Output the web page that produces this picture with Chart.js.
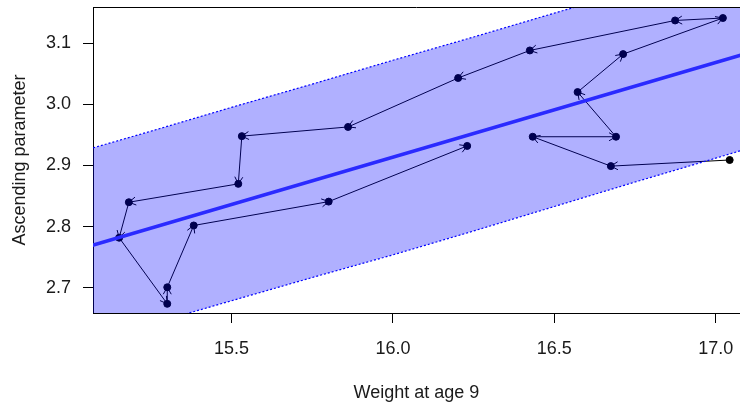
<!DOCTYPE html>
<html>
<head>
<meta charset="utf-8">
<script src="https://cdn.jsdelivr.net/npm/chart.js@4.4.1/dist/chart.umd.min.js"></script>
<style>
  html, body { margin: 0; padding: 0; background: #fff; }
  canvas { display: block; }
</style>
</head>
<body>
<canvas id="myChart" width="740" height="404"></canvas>
<script>
// path of observations, in drawing order (arrows go from one to the next)
var pathX = [17.043, 16.675, 16.433, 16.691, 16.572, 16.713, 17.022, 16.874, 16.424, 16.202,
             15.861, 15.532, 15.521, 15.182, 15.152, 15.301, 15.301, 15.383, 15.801, 16.230];
var pathY = [2.909, 2.899, 2.947, 2.947, 3.020, 3.082, 3.141, 3.137, 3.088, 3.043,
             2.963, 2.948, 2.870, 2.840, 2.782, 2.674, 2.701, 2.802, 2.841, 2.932];

// band around the fitted line
var bandX = [15.0, 15.25, 15.5, 15.75, 16.0, 16.25, 16.5, 16.75, 17.0, 17.25];
var bandUpper = [2.918, 2.956, 2.995, 3.033, 3.072, 3.110, 3.149, 3.187, 3.226, 3.264];
var bandLower = [2.604, 2.641, 2.679, 2.717, 2.754, 2.793, 2.833, 2.873, 2.912, 2.952];

// fitted line
var fitX = [15.0, 17.25];
var fitY = [2.759, 3.107];

var xTicks = [15.5, 16.0, 16.5, 17.0];
var yTicks = [2.7, 2.8, 2.9, 3.0, 3.1];

function pts(xs, ys) {
    return xs.map(function (x, i) { return {x: x, y: ys[i]}; });
}

// open arrowheads at the end of each segment of the path
var arrowHeads = {
    id: 'arrowHeads',
    afterDatasetDraw: function (chart, args) {
        if (args.index !== 0) return;
        var els = chart.getDatasetMeta(0).data;
        var ctx = chart.ctx;
        var len = 8, ang = Math.PI / 6;
        ctx.save();
        ctx.strokeStyle = '#000';
        ctx.lineWidth = 1;
        for (var i = 1; i < els.length; i++) {
            var a = els[i - 1], b = els[i];
            var t = Math.atan2(b.y - a.y, b.x - a.x);
            ctx.beginPath();
            ctx.moveTo(b.x - len * Math.cos(t - ang), b.y - len * Math.sin(t - ang));
            ctx.lineTo(b.x, b.y);
            ctx.lineTo(b.x - len * Math.cos(t + ang), b.y - len * Math.sin(t + ang));
            ctx.stroke();
        }
        ctx.restore();
    }
};

// top edge of the box (right edge is cut off in the picture)
var topFrame = {
    id: 'topFrame',
    afterDraw: function (chart) {
        var a = chart.chartArea, ctx = chart.ctx;
        ctx.save();
        ctx.strokeStyle = '#000';
        ctx.lineWidth = 1;
        ctx.beginPath();
        ctx.moveTo(a.left, a.top + 0.5);
        ctx.lineTo(a.right, a.top + 0.5);
        ctx.stroke();
        ctx.restore();
    }
};

var font = {family: "'Liberation Sans', Arial, sans-serif", size: 18};

var ctx = document.getElementById('myChart');
var myChart = new Chart(ctx, {
    type: 'scatter',
    data: {
        datasets: [{
            label: 'path',
            data: pts(pathX, pathY),
            showLine: true,
            borderColor: '#000',
            borderWidth: 1,
            pointRadius: 3.5,
            pointBackgroundColor: '#000',
            pointBorderColor: '#000',
            order: 3
        }, {
            label: 'upper',
            data: pts(bandX, bandUpper),
            showLine: true,
            borderColor: '#0000ff',
            borderWidth: 1.2,
            borderDash: [2, 2],
            pointRadius: 0,
            fill: '+1',
            backgroundColor: 'rgba(0, 0, 255, 0.31)',
            order: 2
        }, {
            label: 'lower',
            data: pts(bandX, bandLower),
            showLine: true,
            borderColor: '#0000ff',
            borderWidth: 1.2,
            borderDash: [2, 2],
            pointRadius: 0,
            fill: false,
            order: 2
        }, {
            label: 'fit',
            data: pts(fitX, fitY),
            showLine: true,
            borderColor: '#2a2aff',
            borderWidth: 3.5,
            pointRadius: 0,
            order: 1
        }]
    },
    options: {
        responsive: false,
        animation: false,
        layout: {autoPadding: false, padding: {top: 7, right: 0, left: 0, bottom: 0}},
        plugins: {
            legend: {display: false},
            tooltip: {enabled: false}
        },
        scales: {
            x: {
                type: 'linear',
                min: 15.071,
                max: 17.075,
                afterBuildTicks: function (scale) {
                    scale.ticks = xTicks.map(function (v) { return {value: v}; });
                },
                afterFit: function (scale) {
                    scale.height = 91;
                    scale.paddingLeft = 0;
                    scale.paddingRight = 0;
                },
                grid: {drawOnChartArea: false, drawTicks: true, tickLength: 10, color: '#000'},
                border: {display: true, color: '#000', width: 1},
                ticks: {
                    padding: 15,
                    color: '#1a1a1a',
                    font: font,
                    maxRotation: 0,
                    callback: function (v) { return v.toFixed(1); }
                },
                title: {
                    display: true,
                    text: 'Weight at age 9',
                    color: '#1a1a1a',
                    font: font,
                    padding: {top: 0, bottom: 0}
                }
            },
            y: {
                type: 'linear',
                min: 2.659,
                max: 3.159,
                afterBuildTicks: function (scale) {
                    scale.ticks = yTicks.map(function (v) { return {value: v}; });
                },
                afterFit: function (scale) {
                    scale.width = 93;
                    scale.paddingTop = 0;
                    scale.paddingBottom = 0;
                },
                grid: {drawOnChartArea: false, drawTicks: true, tickLength: 10, color: '#000'},
                border: {display: true, color: '#000', width: 1},
                ticks: {
                    padding: 12,
                    color: '#1a1a1a',
                    font: font,
                    callback: function (v) { return v.toFixed(1); }
                },
                title: {
                    display: true,
                    text: 'Ascending parameter',
                    color: '#1a1a1a',
                    font: font,
                    padding: {top: 9, bottom: 9}
                }
            }
        }
    },
    plugins: [arrowHeads, topFrame]
});
</script>
</body>
</html>
